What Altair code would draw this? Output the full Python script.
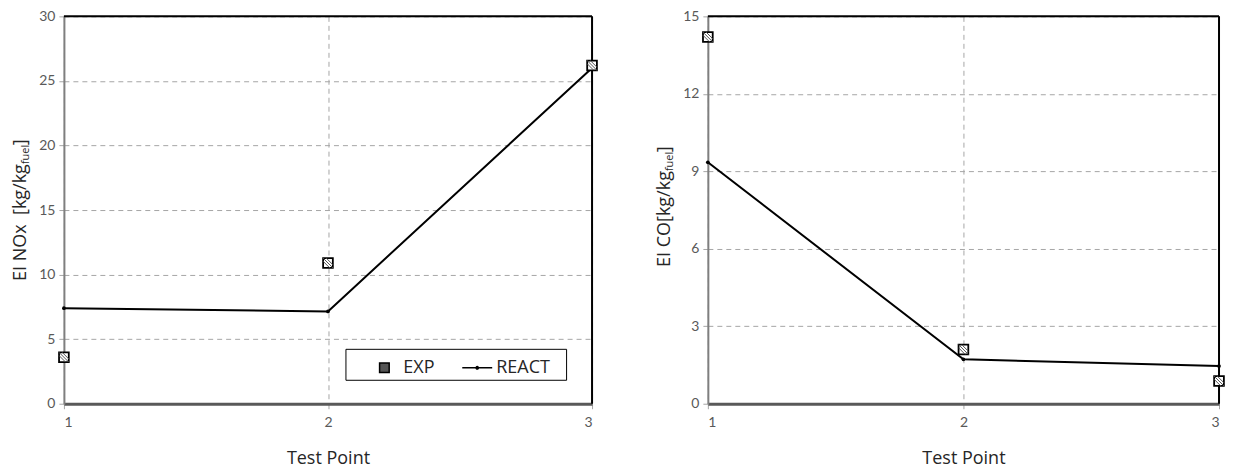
import altair as alt
import pandas as pd

# ---------------- data ----------------
points = [1, 2, 3]
nox_exp = [3.6, 10.9, 26.2]
nox_react = [7.4, 7.15, 26.0]
co_exp = [14.2, 2.1, 0.88]
co_react = [9.35, 1.72, 1.46]
series_names = ["EXP", "REACT"]
x_title = "Test Point"
nox_title = ["EI NOx\u00a0 [kg/kg", "fuel", "]"]
co_title = ["EI CO[kg/kg", "fuel", "]"]
nox_ticks = [0, 5, 10, 15, 20, 25, 30]
co_ticks = [0, 3, 6, 9, 12, 15]

SQUARE = "M-0.32,-0.32L0.32,-0.32L0.32,0.32L-0.32,0.32Z"
LINE_DOT = "M-1,0L1,0M-0.08,0A0.08,0.08 0 1,0 0.08,0A0.08,0.08 0 1,0 -0.08,0"
HATCH = "M-1,-1L1,1M-1,-0.35L0.35,1M-0.35,-1L1,0.35"

TICK_FONT = "Lato"
TITLE_FONT = "Open Sans"
PLOT_H = 388
PAD = "\u2800"


def make_df(exp, react):
    return pd.DataFrame({
        "point": points * 2,
        "value": exp + react,
        "series": ["EXP"] * len(exp) + ["REACT"] * len(react),
    })


def panel(df, ymax, yticks, title_parts, title_x, title_y, bracket_y, width, with_legend):
    x = alt.X("point:Q",
              scale=alt.Scale(domain=[1, 3], nice=False, zero=False),
              axis=alt.Axis(tickCount=2, tickMinStep=1, format="d", title=x_title,
                            grid=True, gridDash=[5, 4], gridColor="#a6a6a6", gridWidth=1,
                            domainColor="#595959", domainWidth=3,
                            tickColor="#a6a6a6", tickSize=5, labelPadding=7,
                            titlePadding=20, labelFont=TICK_FONT, labelFontSize=14,
                            labelColor="#595959", titleFont=TITLE_FONT,
                            titleFontSize=18, titleFontWeight=500, titleColor="#262626"))
    y = alt.Y("value:Q",
              scale=alt.Scale(domain=[0, ymax], nice=False, zero=True),
              axis=alt.Axis(values=yticks, title=None, grid=True,
                            gridDash=[5, 4], gridColor="#a6a6a6", gridWidth=1,
                            domainColor="#7f7f7f", domainWidth=2,
                            tickColor="#a6a6a6", tickSize=5, labelPadding=4,
                            labelFont=TICK_FONT, labelFontSize=14, labelColor="#595959"))
    base = alt.Chart(df).encode(x=x, y=y)
    react = base.transform_filter(alt.datum.series == "REACT")
    exp = base.transform_filter(alt.datum.series == "EXP")

    one = pd.DataFrame({"k": [0]})
    top_rule = alt.Chart(one).mark_rule(color="black", strokeWidth=2).encode(
        x=alt.value(0), x2=alt.value(width), y=alt.value(0))
    right_rule = alt.Chart(one).mark_rule(color="black", strokeWidth=2).encode(
        x=alt.value(width), y=alt.value(0), y2=alt.value(PLOT_H))

    line = react.mark_line(color="black", strokeWidth=2)
    dots = react.mark_point(filled=True, color="black", size=14, opacity=1)
    squares = exp.mark_point(shape="square", filled=True, fill="white", stroke="black",
                             strokeWidth=1.8, size=95, opacity=1)
    hatch = exp.mark_point(shape=HATCH, filled=False, stroke="#555555", strokeWidth=1,
                           size=95, opacity=1)
    layers = [top_rule, right_rule, line, dots, squares, hatch]

    if with_legend:
        leg = base.mark_point(size=0, filled=True, fill="#555555", stroke="black",
                              strokeWidth=1.5, opacity=1).encode(
            shape=alt.Shape("series:N",
                            scale=alt.Scale(domain=series_names, range=[SQUARE, LINE_DOT]),
                            legend=alt.Legend(title=None, orient="none", legendX=282, legendY=333,
                                              direction="horizontal", strokeColor="black",
                                              fillColor="white", padding=3, symbolSize=900,
                                              symbolStrokeWidth=1.5, symbolOffset=20,
                                              labelOffset=3, columnPadding=6,
                                              labelExpr="datum.label == 'REACT' ? 'REACT" + PAD + "' : datum.label",
                                              labelFont=TITLE_FONT, labelFontSize=18,
                                              labelColor="#262626"))
        )
        layers.append(leg)

    tdf_main = pd.DataFrame({"t": [title_parts[0]]})
    tdf_sub = pd.DataFrame({"t": [title_parts[1]]})
    tdf_br = pd.DataFrame({"t": [title_parts[2]]})
    t_main = alt.Chart(tdf_main).mark_text(angle=270, align="right", baseline="middle",
                                          font=TITLE_FONT, fontSize=18, color="#262626").encode(
        text="t:N", x=alt.value(title_x), y=alt.value(title_y))
    t_sub = alt.Chart(tdf_sub).mark_text(angle=270, align="left", baseline="middle",
                                         font=TITLE_FONT, fontSize=11, color="#262626").encode(
        text="t:N", x=alt.value(title_x + 5), y=alt.value(title_y))
    t_br = alt.Chart(tdf_br).mark_text(angle=270, align="left", baseline="middle",
                                       font=TITLE_FONT, fontSize=18, color="#262626").encode(
        text="t:N", x=alt.value(title_x), y=alt.value(bracket_y))
    layers += [t_main, t_sub, t_br]

    return alt.layer(*layers).properties(width=width, height=PLOT_H)


left = panel(make_df(nox_exp, nox_react), 30, nox_ticks, nox_title, -43, 148, 129, 529, True)
right = panel(make_df(co_exp, co_react), 15, co_ticks, co_title, -43, 155, 136, 512, False)

chart = alt.hconcat(
    left, right, spacing=54,
    padding={"left": 3, "top": 0, "right": 0, "bottom": 0},
).configure_view(
    stroke=None
).configure(background="white")

chart.save("out.html", embed_options={"renderer": "svg", "actions": False})
